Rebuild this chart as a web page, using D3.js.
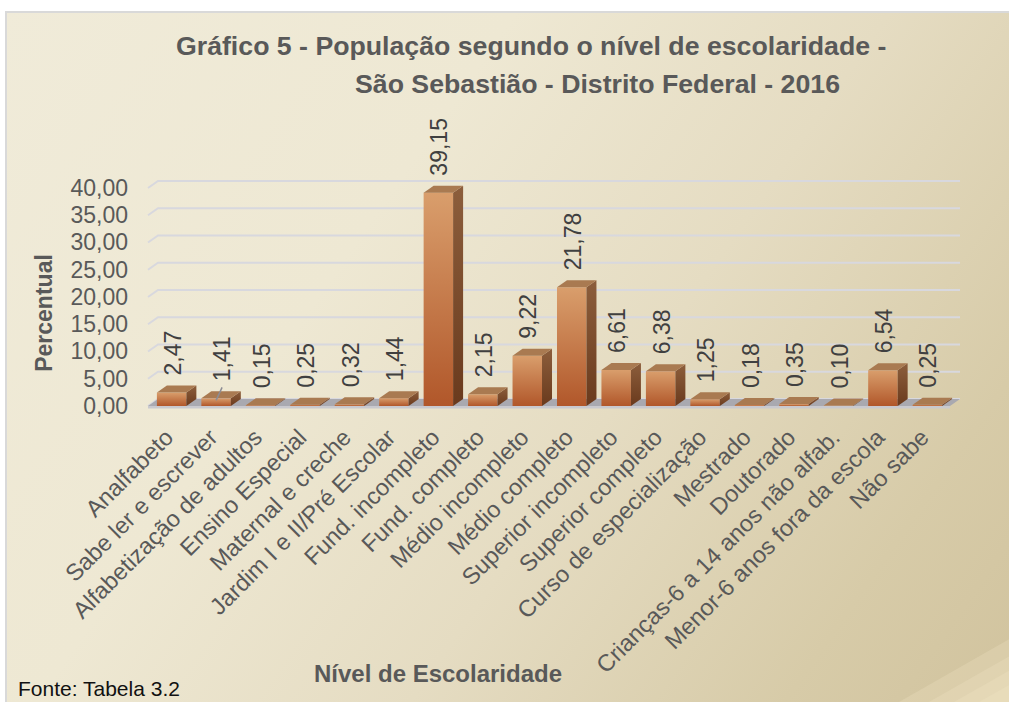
<!DOCTYPE html>
<html>
<head>
<meta charset="utf-8">
<script src="https://d3js.org/d3.v7.min.js"></script>
<style>
    body { margin: 0; background: #ffffff; }
    svg text { font-family: "Liberation Sans", Arial, sans-serif; }
</style>
</head>
<body>
<div id="chart"></div>
<script>
const categories = [
    "Analfabeto", "Sabe ler e escrever", "Alfabetização de adultos", "Ensino Especial",
    "Maternal e creche", "Jardim I e II/Pré Escolar", "Fund. incompleto", "Fund. completo",
    "Médio incompleto", "Médio completo", "Superior incompleto", "Superior completo",
    "Curso de especialização", "Mestrado", "Doutorado", "Crianças-6 a 14 anos não alfab.",
    "Menor-6 anos fora da escola", "Não sabe"
];
const values = [2.47, 1.41, 0.15, 0.25, 0.32, 1.44, 39.15, 2.15, 9.22, 21.78, 6.61, 6.38, 1.25, 0.18, 0.35, 0.10, 6.54, 0.25];
const yTicks = [0, 5, 10, 15, 20, 25, 30, 35, 40];
const titleLines = ["Gráfico 5 - População segundo o nível de escolaridade -", "São Sebastião - Distrito Federal - 2016"];

const ptBR = d3.formatLocale({ decimal: ",", thousands: ".", grouping: [3], currency: ["R$", ""] });
const fmt = ptBR.format(".2f");

function Chart() {
    const width = 1009;
    const height = 702;
    const dx = 10, dy = 7; // 3d depth offset (front -> back)

    const xScale = d3.scaleBand().domain(categories).range([148, 951]).paddingInner(0.337).paddingOuter(0.2);
    const yScale = d3.scaleLinear().domain([0, 40]).range([399, 181]);
    const bw = xScale.bandwidth();

    const svg = d3.select(document.createElementNS("http://www.w3.org/2000/svg", "svg"))
        .attr("width", width)
        .attr("height", height);

    const defs = svg.append("defs");
    const bg = defs.append("linearGradient").attr("id", "bg")
        .attr("gradientUnits", "userSpaceOnUse")
        .attr("x1", 0).attr("y1", 0).attr("x2", 1009).attr("y2", 702);
    [[0, "#f0ebd9"], [0.35, "#eee8d3"], [0.6, "#e5dcc2"], [0.85, "#d7cba8"], [1, "#d1c39e"]]
        .forEach(s => bg.append("stop").attr("offset", s[0]).attr("stop-color", s[1]));

    const front = defs.append("linearGradient").attr("id", "front").attr("x1", 0).attr("y1", 0).attr("x2", 0).attr("y2", 1);
    front.append("stop").attr("offset", 0).attr("stop-color", "#d99e6c");
    front.append("stop").attr("offset", 1).attr("stop-color", "#b1572a");

    const side = defs.append("linearGradient").attr("id", "side").attr("x1", 0).attr("y1", 0).attr("x2", 0).attr("y2", 1);
    side.append("stop").attr("offset", 0).attr("stop-color", "#8c5e3c");
    side.append("stop").attr("offset", 1).attr("stop-color", "#6a3a1d");

    // background panel
    svg.append("rect")
        .attr("x", 6).attr("y", 12)
        .attr("width", 1010).attr("height", 700)
        .attr("fill", "url(#bg)")
        .attr("stroke", "#d9d9d9")
        .attr("stroke-width", 2);

    // lighter streaks in bottom-right corner
    [110, 80, 55, 30].forEach(d => {
        svg.append("polygon")
            .attr("points", `${width - d},${height} ${width},${height - d * 0.57} ${width},${height}`)
            .attr("fill", "#f3e7c6")
            .attr("opacity", 0.25);
    });

    // title
    svg.append("text").text(titleLines[0])
        .attr("x", 176).attr("y", 55)
        .attr("font-size", 26.7).attr("font-weight", "bold").attr("fill", "#595959");
    svg.append("text").text(titleLines[1])
        .attr("x", 355).attr("y", 93)
        .attr("font-size", 26.7).attr("font-weight", "bold").attr("fill", "#595959");

    // gridlines (side wall + back wall)
    const [bx0, bx1] = [148 + dx, 950 + dx];
    svg.append("g")
        .selectAll("path")
        .data(yTicks)
        .join("path")
        .attr("d", d => `M${bx0 - dx},${yScale(d) + dy} L${bx0},${yScale(d)} L${bx1},${yScale(d)}`)
        .attr("fill", "none")
        .attr("stroke", "#d8d8de")
        .attr("stroke-width", 2);

    // y axis labels
    const yAxis = svg.append("g")
        .attr("transform", `translate(128,${dy})`)
        .call(d3.axisLeft(yScale).tickValues(yTicks).tickFormat(fmt).tickSize(0).tickPadding(0));
    yAxis.select(".domain").remove();
    yAxis.selectAll("text")
        .attr("font-size", 23)
        .attr("fill", "#595959")
        .style("font-family", "'Liberation Sans', Arial, sans-serif");

    // floor
    const y0 = yScale(0);
    svg.append("polygon")
        .attr("points", `${bx0 - dx},${y0 + dy} ${bx0},${y0} ${bx1},${y0} ${bx1 - dx},${y0 + dy}`)
        .attr("fill", "#a9a9b0");
    svg.append("rect")
        .attr("x", bx0 - dx).attr("y", y0 + dy)
        .attr("width", bx1 - bx0).attr("height", 2.5)
        .attr("fill", "#c9c9ce");

    // bars
    const bars = svg.append("g")
        .selectAll("g")
        .data(categories.map((c, i) => ({ cat: c, value: values[i], idx: i })))
        .join("g");

    bars.append("rect")
        .attr("x", d => xScale(d.cat))
        .attr("y", d => yScale(d.value) + dy)
        .attr("width", bw)
        .attr("height", d => y0 - yScale(d.value))
        .attr("fill", "url(#front)");

    bars.append("polygon")
        .attr("points", d => {
            const x = xScale(d.cat), yf = yScale(d.value) + dy;
            return `${x + bw},${yf} ${x + bw + dx},${yf - dy} ${x + bw + dx},${y0} ${x + bw},${y0 + dy}`;
        })
        .attr("fill", "url(#side)");

    bars.append("polygon")
        .attr("points", d => {
            const x = xScale(d.cat), yf = yScale(d.value) + dy;
            return `${x},${yf} ${x + dx},${yf - dy} ${x + bw + dx},${yf - dy} ${x + bw},${yf}`;
        })
        .attr("fill", "#a97a51");

    // data labels (the 1,41 label was nudged right with a leader line)
    const nudge = i => (i === 1 ? 6 : 1);
    bars.filter(d => d.idx === 1).append("line")
        .attr("x1", d => xScale(d.cat) + bw / 2)
        .attr("y1", d => yScale(d.value) + 9)
        .attr("x2", d => xScale(d.cat) + bw / 2 + 6)
        .attr("y2", d => yScale(d.value) - 4)
        .attr("stroke", "#8c8c94")
        .attr("stroke-width", 1.5);

    bars.append("text")
        .text(d => fmt(d.value))
        .attr("transform", d => `translate(${xScale(d.cat) + bw / 2 + nudge(d.idx)},${yScale(d.value) - 10}) rotate(-90)`)
        .attr("dy", "0.35em")
        .attr("font-size", 23)
        .attr("fill", "#404040");

    // category labels
    svg.append("g")
        .selectAll("text")
        .data(categories)
        .join("text")
        .text(d => d)
        .attr("transform", d => `translate(${xScale(d) + bw / 2 + 3},439) rotate(-45)`)
        .attr("text-anchor", "end")
        .attr("font-size", 23.5)
        .attr("fill", "#595959");

    // axis titles
    svg.append("text").text("Percentual")
        .attr("transform", "translate(52,313) rotate(-90)")
        .attr("text-anchor", "middle")
        .attr("font-size", 23).attr("font-weight", "bold").attr("fill", "#595959");

    svg.append("text").text("Nível de Escolaridade")
        .attr("x", 438).attr("y", 682)
        .attr("text-anchor", "middle")
        .attr("font-size", 24).attr("font-weight", "bold").attr("fill", "#595959");

    svg.append("text").text("Fonte: Tabela 3.2")
        .attr("x", 18).attr("y", 696)
        .attr("font-size", 21).attr("fill", "#111111");

    return svg.node();
}

document.getElementById("chart").appendChild(Chart());
</script>
</body>
</html>
